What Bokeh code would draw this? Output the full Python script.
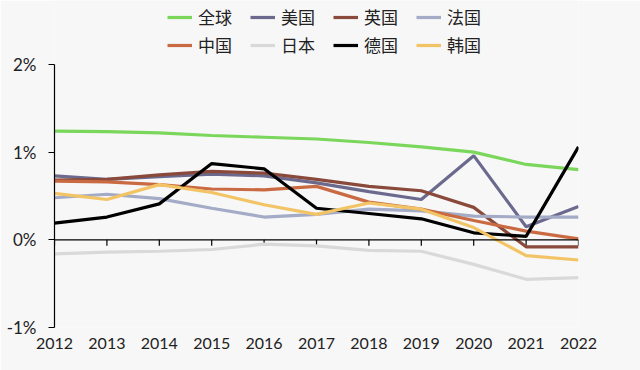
from bokeh.plotting import figure
from bokeh.models import Legend, LegendItem, FixedTicker, Range1d, Span
from bokeh.embed import file_html
from bokeh.resources import INLINE

years = list(range(2012, 2023))
series_names = ["全球", "美国", "英国", "法国", "中国", "日本", "德国", "韩国"]
global_vals = [1.24, 1.235, 1.22, 1.19, 1.17, 1.15, 1.11, 1.06, 1.00, 0.86, 0.80]
usa_vals = [0.73, 0.69, 0.72, 0.75, 0.73, 0.65, 0.55, 0.46, 0.96, 0.15, 0.38]
uk_vals = [0.68, 0.69, 0.74, 0.78, 0.76, 0.69, 0.61, 0.56, 0.37, -0.08, -0.08]
france_vals = [0.48, 0.52, 0.47, 0.36, 0.26, 0.29, 0.35, 0.33, 0.27, 0.26, 0.26]
china_vals = [0.67, 0.66, 0.63, 0.58, 0.57, 0.61, 0.43, 0.35, 0.22, 0.10, 0.01]
japan_vals = [-0.16, -0.14, -0.13, -0.11, -0.05, -0.07, -0.12, -0.13, -0.28, -0.45, -0.43]
germany_vals = [0.19, 0.26, 0.41, 0.87, 0.81, 0.36, 0.30, 0.24, 0.08, 0.04, 1.06]
korea_vals = [0.53, 0.46, 0.63, 0.54, 0.40, 0.29, 0.42, 0.35, 0.14, -0.18, -0.23]
y_ticks = [-1, 0, 1, 2]
y_tick_labels = ["-1%", "0%", "1%", "2%"]

all_vals = [global_vals, usa_vals, uk_vals, france_vals, china_vals,
            japan_vals, germany_vals, korea_vals]
colors = ["#7bd65c", "#6b6a8e", "#8a4a3b", "#a3abc6", "#c96a42",
          "#d9d9d9", "#000000", "#f2c466"]

BG = "#f7f7f7"
# frame extends to the top of the canvas so the legend can sit inside it;
# the y axis line is bounded to -1..2
p = figure(width=640, height=370, output_backend="svg", toolbar_location=None,
           x_range=Range1d(2012, 2022), y_range=Range1d(-1, 2.73),
           min_border_left=54, min_border_right=62, min_border_top=0,
           min_border_bottom=43)
p.background_fill_color = BG
p.border_fill_color = BG
p.outline_line_color = None
p.xgrid.visible = False
p.ygrid.visible = False

# zero line with downward tick marks at each year
p.add_layout(Span(location=0, dimension="width", line_color="black", line_width=1.2))
tick_len = 3.73 / 327 * 6
p.segment(x0=years, y0=[0] * len(years), x1=years, y1=[-tick_len] * len(years),
          line_color="black", line_width=1.2)

items = []
for name, vals, c in zip(series_names, all_vals, colors):
    r = p.line(years, vals, line_color=c, line_width=3.2)
    items.append(LegendItem(label=name, renderers=[r]))

# legend fills column by column: interleave so rows read 全球 美国 英国 法国 / 中国 日本 德国 韩国
half = len(items) // 2
legend_items = []
for a, b in zip(items[:half], items[half:]):
    legend_items += [a, b]

xa = p.xaxis[0]
xa.ticker = FixedTicker(ticks=years)
xa.axis_line_color = None
xa.major_tick_line_color = None
xa.major_tick_out = 0
xa.minor_tick_line_color = None
xa.major_label_text_font = "Lato"
xa.major_label_text_font_size = "16px"
xa.major_label_text_color = "#222222"
xa.major_label_standoff = 10

ya = p.yaxis[0]
ya.ticker = FixedTicker(ticks=y_ticks)
ya.bounds = (-1, 2)
ya.major_label_overrides = {t: l for t, l in zip(y_ticks, y_tick_labels)}
ya.minor_tick_line_color = None
ya.major_tick_out = 6
ya.major_tick_in = 0
ya.axis_line_color = "black"
ya.axis_line_width = 1.2
ya.major_tick_line_width = 1.2
ya.major_label_text_font = "Lato"
ya.major_label_text_font_size = "17px"
ya.major_label_text_color = "#222222"
ya.major_label_standoff = 12

legend = Legend(items=legend_items, ncols=4, location=(113, 270),
                glyph_width=25, glyph_height=20, label_width=49, label_height=20,
                label_standoff=6, spacing=3, padding=0, margin=0,
                label_text_font="Noto Sans CJK SC", label_text_font_size="17px",
                label_text_color="#222222",
                border_line_alpha=0, background_fill_alpha=0)
p.add_layout(legend, "center")

open("out.html", "w").write(file_html(p, INLINE))
